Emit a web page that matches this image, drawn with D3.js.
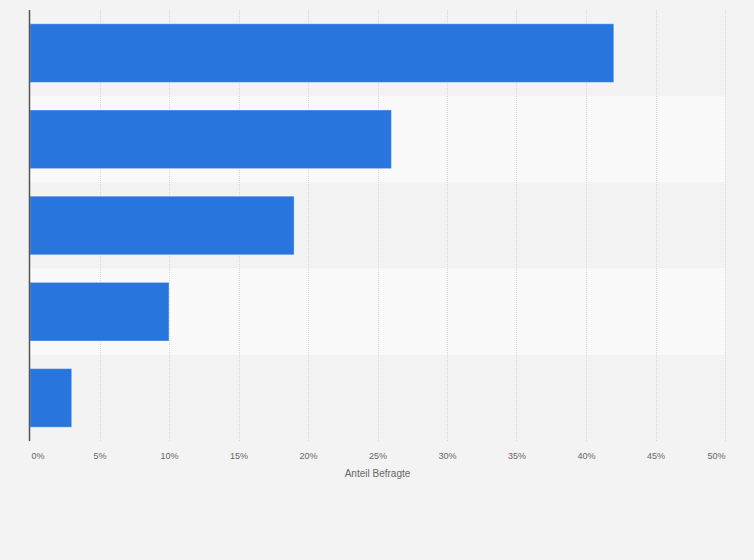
<!DOCTYPE html>
<html>
<head>
<meta charset="utf-8">
<script src="https://cdn.jsdelivr.net/npm/d3@7"></script>
<style>
  html, body { margin: 0; padding: 0; background: #f3f3f3; }
  svg { display: block; font-family: "Liberation Sans", Arial, sans-serif; }
</style>
</head>
<body>
<div id="chart"></div>
<script>
// categories have no visible labels in the reference
var categories = ["A", "B", "C", "D", "E"];
var values = [42, 26, 19, 10, 3];
var xTicks = [0, 5, 10, 15, 20, 25, 30, 35, 40, 45, 50];
var xTitle = "Anteil Befragte";

var width = 754, height = 560;
var margin = { top: 10, right: 29, bottom: 119, left: 30 };
var innerW = width - margin.left - margin.right,
    innerH = height - margin.top - margin.bottom;

var svg = d3.select("#chart").append("svg")
    .attr("width", width)
    .attr("height", height);

svg.append("rect")
    .attr("width", width)
    .attr("height", height)
    .attr("fill", "#f3f3f3");

var g = svg.append("g")
    .attr("transform", "translate(" + margin.left + "," + margin.top + ")");

var x = d3.scaleLinear()
    .domain([0, 50])
    .range([0, innerW]);

var yBand = d3.scaleBand()
    .domain(categories)
    .range([0, innerH]);

var y = d3.scaleBand()
    .domain(categories)
    .range([0, innerH])
    .paddingInner(0.32)
    .paddingOuter(0.16);

// alternating row bands
g.selectAll("rect.band")
    .data(categories)
    .enter().append("rect")
    .attr("class", "band")
    .attr("x", 0)
    .attr("y", function(d) { return yBand(d); })
    .attr("width", innerW)
    .attr("height", yBand.bandwidth())
    .attr("fill", function(d, i) { return i % 2 ? "#f9f9f9" : "#f3f3f3"; });

// grid lines
g.selectAll("line.grid")
    .data(xTicks.slice(1))
    .enter().append("line")
    .attr("class", "grid")
    .attr("x1", function(d) { return Math.round(x(d)) + 0.5; })
    .attr("x2", function(d) { return Math.round(x(d)) + 0.5; })
    .attr("y1", 0)
    .attr("y2", innerH)
    .attr("stroke", "#d6d6d6")
    .attr("stroke-width", 1)
    .attr("stroke-dasharray", "1,1");

// bars
g.selectAll("rect.bar")
    .data(values)
    .enter().append("rect")
    .attr("class", "bar")
    .attr("x", 0)
    .attr("y", function(d, i) { return y(categories[i]); })
    .attr("width", function(d) { return x(d); })
    .attr("height", y.bandwidth())
    .attr("fill", "#2876dd")
    .attr("stroke", "rgba(255,255,255,0.35)")
    .attr("stroke-width", 1);

// left axis line
g.append("line")
    .attr("x1", -0.5).attr("x2", -0.5)
    .attr("y1", 0).attr("y2", innerH)
    .attr("stroke", "#555")
    .attr("stroke-width", 1.5);

// x axis labels
var xAxis = d3.axisBottom(x)
    .tickValues(xTicks)
    .tickSize(0)
    .tickPadding(12)
    .tickFormat(function(d) { return d + "%"; });

var ax = g.append("g")
    .attr("transform", "translate(0," + innerH + ")")
    .call(xAxis);
ax.select(".domain").remove();
ax.selectAll("text")
    .attr("fill", "#666")
    .style("font-size", "9px")
    .attr("text-anchor", function(d, i) {
        return i === 0 ? "start" : (i === xTicks.length - 1 ? "end" : "middle");
    })
    .attr("dx", function(d, i) { return i === 0 ? 1 : 0; });

svg.append("text")
    .attr("x", margin.left + innerW / 2)
    .attr("y", margin.top + innerH + 36)
    .attr("text-anchor", "middle")
    .attr("fill", "#666")
    .style("font-size", "10px")
    .text(xTitle);
</script>
</body>
</html>
